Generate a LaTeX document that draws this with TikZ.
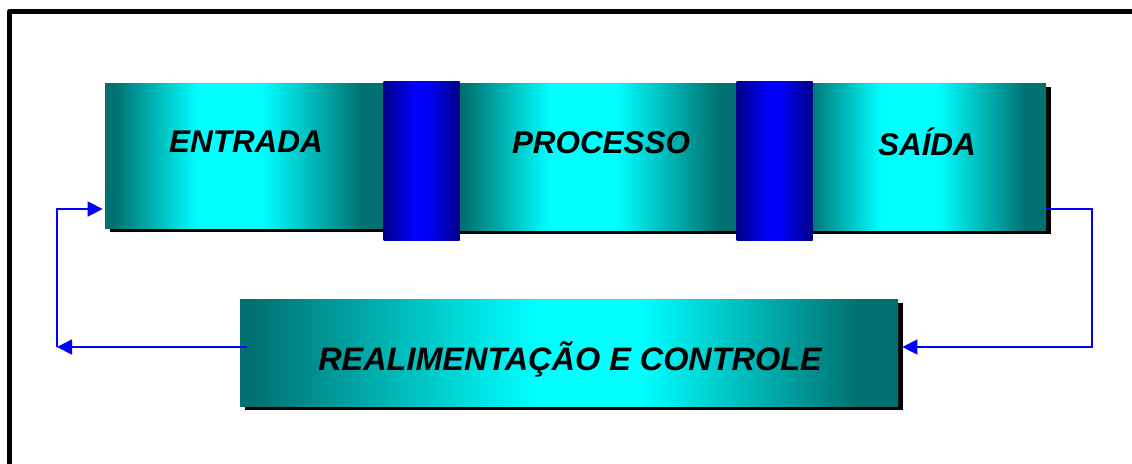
\documentclass[tikz,border=0pt]{standalone}
\usepackage{fontspec}
\setmainfont{Liberation Sans}
\usepackage{tikz}
\usetikzlibrary{calc}
\usetikzlibrary{arrows.meta}
\usetikzlibrary{shadows}

\definecolor{tealdark}{RGB}{0,112,112}
\definecolor{tealcyan}{RGB}{0,255,255}
\definecolor{bardark}{RGB}{0,0,140}
\definecolor{barblue}{RGB}{0,0,255}
\definecolor{linkblue}{RGB}{0,0,255}

\pgfdeclarehorizontalshading{tealband}{100bp}{color(0bp)=(tealdark); color(26.5bp)=(tealdark); color(41.5bp)=(tealcyan); color(53bp)=(tealcyan); color(71bp)=(tealdark); color(100bp)=(tealdark)}
\pgfdeclarehorizontalshading{tealwide}{100bp}{color(0bp)=(tealdark); color(26bp)=(tealdark); color(47.5bp)=(tealcyan); color(55.5bp)=(tealcyan); color(72bp)=(tealdark); color(100bp)=(tealdark)}
\pgfdeclarehorizontalshading{blueband}{100bp}{color(0bp)=(bardark); color(26bp)=(bardark); color(46bp)=(barblue); color(53bp)=(barblue); color(74bp)=(bardark); color(100bp)=(bardark)}

\begin{document}
\begin{tikzpicture}[x=0.5pt,y=-0.5pt,
    stagebox/.style={shading=tealband, inner sep=0pt,
        drop shadow={shadow xshift=2.5pt,shadow yshift=-2pt,fill=black,opacity=1}},
    joinbar/.style={shading=blueband, inner sep=0pt, minimum width=38pt, minimum height=79.5pt},
    stagetext/.style={anchor=base, font=\bfseries\itshape\fontsize{15.7}{18}\selectfont},
    feedback/.style={linkblue, line width=0.8pt, -{Triangle[length=7.5pt,width=7.5pt]}}]
    \useasboundingbox (0,0) rectangle (1132,463);
    \draw[line width=2.5pt, line join=round] (9.5,480) -- (9.5,11.5) -- (1150,11.5);

    \node[stagebox, minimum width=140pt, minimum height=72.5pt] (entrada) at (245,155.5) {};
    \node[stagebox, minimum width=143.5pt, minimum height=73.5pt] (processo) at (598.5,156.5) {};
    \node[stagebox, minimum width=123pt, minimum height=73.5pt] (saida) at (923,156.5) {};
    \node[joinbar] (barA) at (421.5,160.5) {};
    \node[joinbar] (barB) at (774.5,160.5) {};
    \node[stagebox, shading=tealwide, minimum width=329pt, minimum height=53.5pt] (realim) at (569,352.5) {};

    \node[stagetext] (entradatxt) at (246,152) {ENTRADA};
    \node[stagetext] (processotxt) at (601,153) {PROCESSO};
    \node[stagetext] (saidatxt) at (927,155) {SAÍDA};
    \node[stagetext, font=\bfseries\itshape\fontsize{16.2}{18}\selectfont] (realimtxt) at (570,370) {REALIMENTAÇÃO E CONTROLE};

    \coordinate (rt) at (1092,209);
    \coordinate (rb) at (1092,347);
    \coordinate (lb) at (57,347);
    \coordinate (lt) at (57,209);
    \draw[feedback] (saida.east |- rt) -- (rt) -- (rb) -- ([xshift=2pt]realim.east |- rb);
    \draw[feedback] ([xshift=3.5pt]realim.west |- lb) -- (lb);
    \draw[feedback] (lb) -- (lt) -- ([xshift=-1pt]entrada.west |- lt);
\end{tikzpicture}
\end{document}
